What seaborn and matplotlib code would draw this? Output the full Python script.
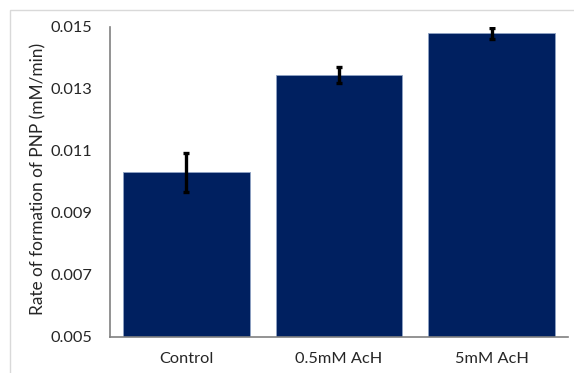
import matplotlib
matplotlib.use("Agg")
import matplotlib.pyplot as plt
import seaborn as sns
import pandas as pd
from matplotlib.patches import Rectangle

categories = ["Control", "0.5mM AcH", "5mM AcH"]
rates = [0.01031, 0.01343, 0.01478]
errors = [0.00063, 0.00025, 0.00018]
yticks = [0.005, 0.007, 0.009, 0.011, 0.013, 0.015]
ytick_labels = ["0.005", "0.007", "0.009", "0.011", "0.013", "0.015"]

sns.set_style("white")
plt.rcParams["font.family"] = ["Lato", "DejaVu Sans"]

df = pd.DataFrame({"cond": categories, "rate": rates})

fig = plt.figure(figsize=(5.74, 3.73), dpi=100)
ax = fig.add_axes([110 / 574, 1 - 337 / 373, (568 - 110) / 574, (337 - 26.5) / 373])

sns.barplot(data=df, x="cond", y="rate", color="#002060", saturation=1,
            width=0.83, errorbar=None, edgecolor="#8fa3c4", linewidth=0.6, ax=ax)
ax.errorbar(x=range(len(categories)), y=rates, yerr=errors, fmt="none",
            ecolor="black", elinewidth=2.4, capsize=2.5, capthick=2.4)

ax.set_ylim(0.005, 0.015)
ax.set_xlim(-0.5, 2.5)
ax.set_yticks(yticks)
ax.set_yticklabels(ytick_labels)
ax.set_xlabel("")
ax.set_ylabel("Rate of formation of PNP (mM/min)", fontsize=12.4, color="#262626")
ax.yaxis.set_label_coords(-0.138, 0.51)
ax.tick_params(axis="both", length=0, labelsize=11.8, colors="#262626")
ax.tick_params(axis="x", pad=11)
ax.tick_params(axis="y", pad=13)

for s in ["top", "right"]:
    ax.spines[s].set_visible(False)
for s in ["left", "bottom"]:
    ax.spines[s].set_color("#808080")
    ax.spines[s].set_linewidth(1.2)

fig.add_artist(Rectangle((10 / 574, -0.1), 1.2, (1 - 10 / 373) + 0.1,
                         transform=fig.transFigure, fill=False,
                         edgecolor="#d9d9d9", linewidth=1.0))

fig.savefig("out.png", dpi=100)
